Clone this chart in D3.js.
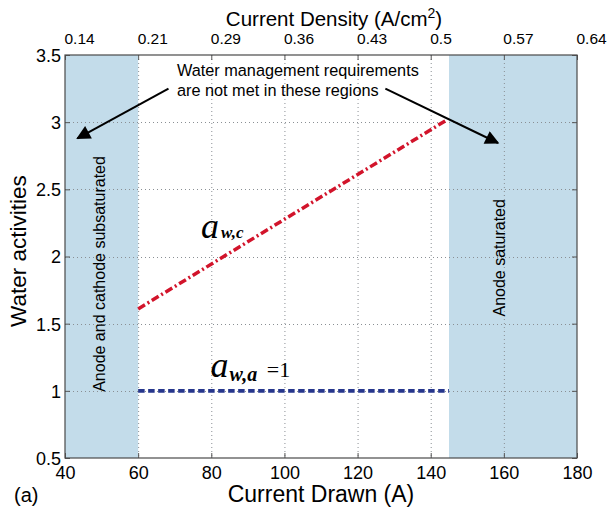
<!DOCTYPE html>
<html><head><meta charset="utf-8">
<script src="https://cdn.jsdelivr.net/npm/d3@7"></script>
<style>
html,body{margin:0;padding:0;background:#fff;}
svg{display:block;font-family:"Liberation Sans",Arial,sans-serif;}
</style></head>
<body><svg id="chart" width="607" height="511"></svg>
<script>
// ---- data ----
const xTicks = [40, 60, 80, 100, 120, 140, 160, 180];
const topTickLabels = ["0.14", "0.21", "0.29", "0.36", "0.43", "0.5", "0.57", "0.64"];
const yTicks = [0.5, 1, 1.5, 2, 2.5, 3, 3.5];
const lowRegion = [40, 60];
const highRegion = [145, 180];
const currentDrawn = [60, 144];
const awc = [1.61, 3.01];
const awa = [1, 1];
const lowRegionLabel = "Anode and cathode subsaturated";
const highRegionLabel = "Anode saturated";
const noteLines = ["Water management requirements", "are not met in these regions"];

// ---- layout ----
const svg = d3.select("#chart");
const L = 65, R = 577, T = 55, B = 458;
const x = d3.scaleLinear().domain([40, 180]).range([L, R]);
const y = d3.scaleLinear().domain([0.5, 3.5]).range([B, T]);
const sans = "Liberation Sans, Arial, sans-serif";

const defs = svg.append("defs");
defs.append("marker").attr("id", "arr").attr("viewBox", "0 0 10 10")
  .attr("refX", 9).attr("refY", 5).attr("markerWidth", 9).attr("markerHeight", 7)
  .attr("markerUnits", "strokeWidth").attr("orient", "auto")
  .append("path").attr("d", "M0,0 L10,5 L0,10 Z").attr("fill", "#000");

// shaded regions
[lowRegion, highRegion].forEach(r => {
  svg.append("rect").attr("x", x(r[0])).attr("y", T)
    .attr("width", x(r[1]) - x(r[0])).attr("height", B - T)
    .attr("fill", "#c3dcea");
});

// grid
const grid = svg.append("g").attr("stroke", "#8a8f94").attr("stroke-width", 1)
  .attr("stroke-dasharray", "1,3");
xTicks.slice(1, -1).forEach(t => grid.append("line")
  .attr("x1", x(t) + 0.5).attr("x2", x(t) + 0.5).attr("y1", T).attr("y2", B));
yTicks.slice(1, -1).forEach(t => grid.append("line")
  .attr("x1", L).attr("x2", R).attr("y1", Math.round(y(t)) + 0.5).attr("y2", Math.round(y(t)) + 0.5));

// axes
const axB = d3.axisBottom(x).tickValues(xTicks).tickSizeInner(-5).tickSizeOuter(0).tickPadding(8);
const gB = svg.append("g").attr("transform", `translate(0,${B})`).call(axB);
gB.selectAll("text").attr("font-size", 18).attr("fill", "#000").attr("font-family", sans);

const axT = d3.axisTop(x).tickValues(xTicks).tickSizeInner(-5).tickSizeOuter(0).tickPadding(11)
  .tickFormat((d, i) => topTickLabels[i]);
const gT = svg.append("g").attr("transform", `translate(0,${T})`).call(axT);
gT.selectAll("text").attr("font-size", 15.5).attr("fill", "#000").attr("text-anchor", "start")
  .attr("dx", -1).attr("font-family", sans);

const axL = d3.axisLeft(y).tickValues(yTicks).tickSizeInner(-5).tickSizeOuter(0).tickPadding(4)
  .tickFormat(d3.format("~g"));
const gL = svg.append("g").attr("transform", `translate(${L},0)`).call(axL);
gL.selectAll("text").attr("font-size", 18).attr("fill", "#000").attr("dy", "0.36em")
  .attr("font-family", sans);

const axR = d3.axisRight(y).tickValues(yTicks).tickSizeInner(-5).tickSizeOuter(0).tickFormat("");
svg.append("g").attr("transform", `translate(${R},0)`).call(axR);

svg.selectAll(".tick line").attr("stroke", "#555");
svg.selectAll(".domain").remove();

// box
svg.append("rect").attr("x", L).attr("y", T).attr("width", R - L).attr("height", B - T)
  .attr("fill", "none").attr("stroke", "#4a4a4a").attr("stroke-width", 1.2);

// series
const line = d3.line().x(d => x(d[0])).y(d => y(d[1]));
svg.append("path").datum(currentDrawn.map((c, i) => [c, awc[i]]))
  .attr("d", line).attr("fill", "none").attr("stroke", "#d2142b")
  .attr("stroke-width", 3.5).attr("stroke-dasharray", "8,3,2,3");
svg.append("path").datum([[60, awa[0]], [145, awa[1]]])
  .attr("d", line).attr("fill", "none").attr("stroke", "#26368c")
  .attr("stroke-width", 3.8).attr("stroke-dasharray", "6.5,3.5");

// series labels
const serif = "Liberation Serif, Times New Roman, serif";
const t1 = svg.append("text").attr("x", x(77.2)).attr("y", y(2.14))
  .attr("font-family", serif).attr("font-style", "italic");
t1.append("tspan").attr("font-size", 36).text("a");
t1.append("tspan").attr("font-size", 17).attr("dx", 2).attr("dy", 0).attr("font-weight", "bold").text("w,c");

const t2 = svg.append("text").attr("x", x(79.8)).attr("y", y(1.1))
  .attr("font-family", serif).attr("font-style", "italic");
t2.append("tspan").attr("font-size", 36).text("a");
t2.append("tspan").attr("font-size", 20).attr("dx", 1).attr("dy", 4).attr("font-weight", "bold").text("w,a");
svg.append("text").attr("x", x(95.2)).attr("y", y(1.1))
  .attr("font-family", serif).attr("font-size", 22).text("=1");

// region labels
svg.append("text").attr("transform", `translate(${x(51)},${y(1.87)}) rotate(-90)`)
  .attr("text-anchor", "middle").attr("font-size", 16).text(lowRegionLabel);
svg.append("text").attr("transform", `translate(${x(160.2)},${y(1.99)}) rotate(-90)`)
  .attr("text-anchor", "middle").attr("font-size", 16).text(highRegionLabel);

// note and arrows
noteLines.forEach((s, i) => svg.append("text").attr("x", x(70.6)).attr("y", y(3.34) + i * 20)
  .attr("font-size", 16.3).text(s));
svg.append("line").attr("x1", x(68.3)).attr("y1", y(3.25)).attr("x2", x(43.4)).attr("y2", y(2.88))
  .attr("stroke", "#000").attr("stroke-width", 2).attr("marker-end", "url(#arr)");
svg.append("line").attr("x1", x(127.6)).attr("y1", y(3.25)).attr("x2", x(158.4)).attr("y2", y(2.845))
  .attr("stroke", "#000").attr("stroke-width", 2).attr("marker-end", "url(#arr)");

// axis titles
svg.append("text").attr("x", 321).attr("y", 502).attr("text-anchor", "middle")
  .attr("font-size", 23).text("Current Drawn (A)");
const tt = svg.append("text").attr("x", 334).attr("y", 26).attr("text-anchor", "middle")
  .attr("font-size", 20.5);
tt.append("tspan").text("Current Density (A/cm");
tt.append("tspan").attr("font-size", 14).attr("dy", -8).text("2");
tt.append("tspan").attr("dy", 8).text(")");
svg.append("text").attr("transform", `translate(26,${y(2.04)}) rotate(-90)`)
  .attr("text-anchor", "middle").attr("font-size", 22.5).text("Water activities");
svg.append("text").attr("x", 14).attr("y", 502).attr("font-size", 20).text("(a)");
</script>
</body></html>
